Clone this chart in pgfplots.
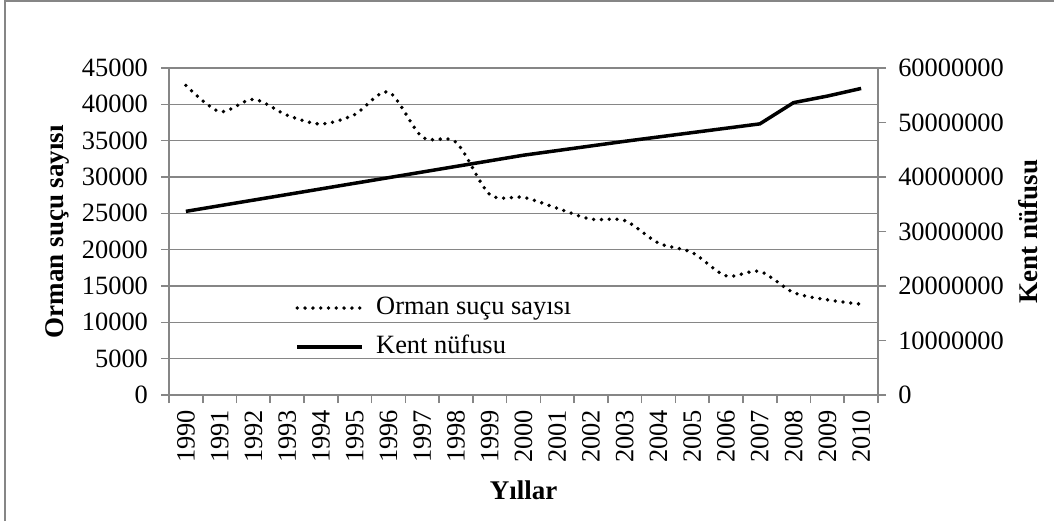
\documentclass[border=0pt]{standalone}
\usepackage{fontspec}
\setmainfont{Liberation Serif}
\usepackage{pgfplots}
\pgfplotsset{compat=1.18}
\definecolor{axgray}{RGB}{134,134,134}
\begin{document}
\begin{tikzpicture}
\path[use as bounding box] (0,0) rectangle (527pt,260.5pt);
\draw[axgray, line width=0.8pt] (2.5pt,0) -- (2.5pt,260pt) -- (527pt,260pt);
\pgfplotsset{
 every axis/.append style={
  scale only axis, width=354.5pt, height=163.5pt,
  at={(84.5pt,63pt)}, anchor=south west,
  xmin=-0.5, xmax=20.5,
  tick align=outside, major tick length=4pt, minor tick length=4pt,
  axis line style={axgray, line width=0.8pt},
  tick style={axgray, line width=0.8pt},
  /pgf/number format/assume math mode=true,
  /pgf/number format/1000 sep={},
  ticklabel style={font=\fontsize{13.2}{15}\selectfont},
  label style={font=\fontsize{13.5}{16}\selectfont\bfseries},
  scaled y ticks=false,
 },
 dotstyle/.style={black, line width=1.9pt, line cap=round, dash pattern=on 0pt off 3.9pt},
}
\begin{axis}[
  axis x line*=bottom, axis y line*=left,
  ymin=0, ymax=45000, ytick distance=5000,
  xtick={0,1,...,20},
  xticklabels={1990,1991,1992,1993,1994,1995,1996,1997,1998,1999,2000,2001,2002,2003,2004,2005,2006,2007,2008,2009,2010},
  minor xtick={-0.5,0.5,...,20.5},
  every major x tick/.append style={draw opacity=0},
  ymajorgrids, major grid style={axgray, line width=0.6pt, draw opacity=1},
  xticklabel style={rotate=90, anchor=east},
  yticklabel style={xshift=-3pt},
  ylabel={Orman suçu sayısı},
  ylabel style={at={(axis description cs:-0.1566,0.5)}, anchor=center},
  xlabel={Yıllar},
  xlabel style={at={(axis description cs:0.5,-0.2905)}, anchor=center},
]
\addplot[dotstyle, smooth, tension=0.5] coordinates {
(0,42600) (1,39000) (2,40700) (3,38500) (4,37300) (5,38600) (6,41700)
(7,35500) (8,34800) (9,27600) (10,27200) (11,25700) (12,24200) (13,24000)
(14,20900) (15,19600) (16,16400) (17,17000) (18,14100) (19,13100) (20,12500)};
\end{axis}
\begin{axis}[
  axis y line*=right, axis x line=none,
  ymin=0, ymax=60000000, ytick distance=10000000,
  yticklabel style={xshift=2.6pt, /pgf/number format/fixed},
  ylabel={Kent nüfusu},
  ylabel style={at={(axis description cs:1.212,0.5)}, anchor=center},
  legend style={at={(0.1777,0.2064)}, anchor=west, draw=none, fill=none,
    inner sep=0pt, row sep=7pt, column sep=6pt,
    font=\fontsize{13.2}{15}\selectfont,
    nodes={inner sep=0pt, text height=9.5pt, text depth=3pt}},
  legend cell align=left,
  legend image code/.code={\draw[#1] (0pt,0pt) -- (32.5pt,0pt);},
]
\addlegendimage{dotstyle}
\addlegendentry{Orman suçu sayısı}
\addplot[black, line width=1.75pt] coordinates {
(0,33700000) (1,34730000) (2,35760000) (3,36790000) (4,37820000) (5,38850000)
(6,39880000) (7,40910000) (8,41940000) (9,42970000) (10,44000000)
(11,44850000) (12,45700000) (13,46550000) (14,47350000) (15,48150000)
(16,48950000) (17,49750000) (18,53650000) (19,54850000) (20,56250000)};
\addlegendentry{Kent nüfusu}
\end{axis}
\end{tikzpicture}
\end{document}
